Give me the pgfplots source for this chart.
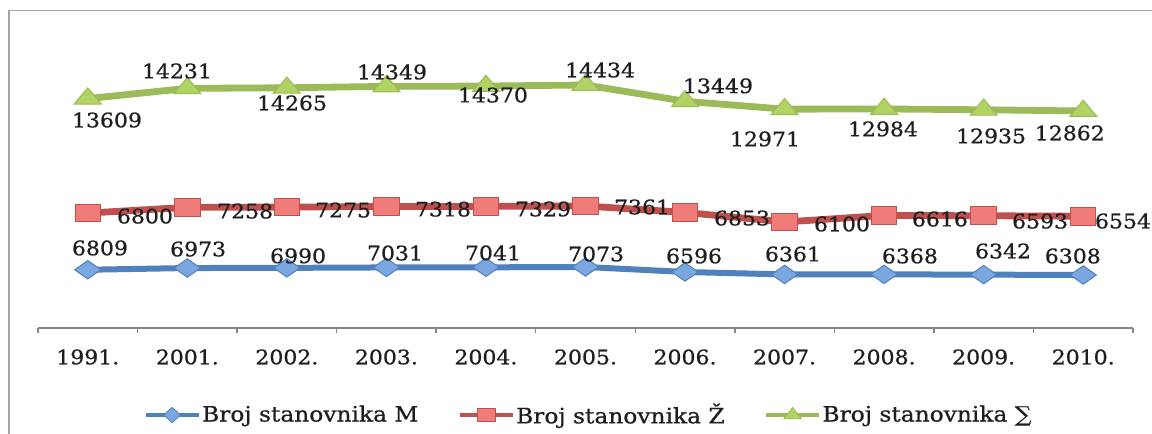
\documentclass[border=0pt]{standalone}
\usepackage{pgfplots}
\pgfplotsset{compat=1.18}
\usepackage{pgfplotstable}
\usepackage{fontspec}
\setmainfont{DejaVu Serif}[FakeStretch=1.1, FakeBold=0.7]
\definecolor{mblue}{HTML}{4F81BD}
\definecolor{mbluef}{HTML}{7BA7E1}
\definecolor{mred}{HTML}{C0504D}
\definecolor{mredf}{HTML}{EF7C79}
\definecolor{mgreen}{HTML}{9BBB59}
\definecolor{mgreenf}{HTML}{B0D363}
\definecolor{axgray}{HTML}{878787}
\definecolor{framegray}{HTML}{A6A6A6}
\definecolor{txt}{HTML}{1E1E1E}

\pgfplotstableread{
x y lab dx dy
0 6809 6809 6.1 10.9
1 6973 6973 5.4 9.5
2 6990 6990 5.6 6.0
3 7031 7031 4.3 7.2
4 7041 7041 3.5 7.2
5 7073 7073 5.3 6.5
6 6596 6596 4.5 8.0
7 6361 6361 4.2 10.2
8 6368 6368 12.9 9.2
9 6342 6342 9.7 11.8
10 6308 6308 -5.2 9.5
}\tblM
\pgfplotstableread{
x y lab dx dy
0 6800 6800 28.6 -1.5
1 7258 7258 28.9 -1.9
2 7275 7275 28.1 -1.5
3 7318 7318 28.3 -1.3
4 7329 7329 28.5 -1.3
5 7361 7361 28.3 -0.5
6 6853 6853 28.5 -2.8
7 6100 6100 28.7 -1.0
8 6616 6616 27.9 -1.8
9 6593 6593 28.2 -2.7
10 6554 6554 19.9 -2.4
}\tblZ
\pgfplotstableread{
x y lab dx dy
0 13609 13609 9.6 -10.7
1 14231 14231 -5.2 8.7
2 14265 14265 2.6 -7.6
3 14349 14349 2.8 7.2
4 14370 14370 3.5 -4.5
5 14434 14434 7.3 7.5
6 13449 13449 16.5 7.7
7 12971 12971 -9.8 -14.9
8 12984 12984 -0.6 -10.0
9 12935 12935 3.7 -13.1
10 12862 12862 -6.7 -11.0
}\tblS

\pgfplotsset{
  base/.style={
    at={(19pt,53pt)}, anchor=south west,
    scale only axis, width=547.5pt, height=154pt,
    xmin=-0.5, xmax=10.5, clip=false,
  },
  series/.style={
    base, axis lines=none,
  },
  lbl/.style={
    nodes near coords, point meta=explicit symbolic,
    visualization depends on={\thisrow{dx} \as \dx},
    visualization depends on={\thisrow{dy} \as \dy},
    every node near coord/.append style={anchor=center, xshift=\dx, yshift=\dy,
      font=\fontsize{10}{12}\selectfont, text=txt, inner sep=0pt},
  },
}

\begin{document}
\begin{tikzpicture}
\useasboundingbox (0,0) rectangle (576pt,217pt);
\fill[white] (0,0) rectangle (576pt,217pt);
\draw[framegray, line width=0.9pt] (4.4pt,-20pt) rectangle (640pt,211.7pt);

% x axis and legend
\begin{axis}[base,
  ymin=0, ymax=1,
  axis x line*=bottom, axis y line=none,
  x axis line style={-, axgray, line width=0.75pt},
  xtick={0,...,10},
  xticklabels={1991.,2001.,2002.,2003.,2004.,2005.,2006.,2007.,2008.,2009.,2010.},
  minor xtick={-0.5,0.5,...,10.5},
  major tick length=0pt, minor tick length=2.5pt, tick align=outside,
  minor tick style={axgray, line width=0.75pt},
  xticklabel style={anchor=center, yshift=-14.5pt, text=txt, font=\fontsize{10}{12}\selectfont},
  legend columns=3,
  legend image code/.code={\draw[mark repeat=2,mark phase=2,#1] plot coordinates {(0pt,0pt)(13.25pt,0pt)(26.5pt,0pt)};},
  legend style={at={(axis description cs:0.5,0)}, anchor=center, xshift=1.5pt, yshift=-43.5pt,
    draw=none, fill=none, font=\fontsize{10.6}{12}\selectfont, text=txt,
    nodes={inner sep=0.8pt},
    /tikz/every even column/.append style={column sep=19pt}},
]
\addlegendimage{mblue, line width=1.8pt, mark=diamond*, mark size=3.8pt, mark options={fill=mbluef, draw=mblue, line width=0.4pt, xscale=1.5}}
\addlegendentry{Broj stanovnika M}
\addlegendimage{mred, line width=1.8pt, mark=square*, mark size=3.4pt, mark options={fill=mredf, draw=mred, line width=0.4pt, xscale=1.35}}
\addlegendentry{Broj stanovnika Ž}
\addlegendimage{mgreen, line width=1.8pt, mark=triangle*, mark size=3.8pt, mark options={fill=mgreenf, draw=mgreen, line width=0.4pt, xscale=1.35}}
\addlegendentry{Broj stanovnika ∑}
\end{axis}

% M series
\begin{axis}[series, ymin=1241, ymax=30686]
\addplot[mblue, line width=3pt, mark=diamond*, mark size=4.6pt,
  mark options={fill=mbluef, draw=mblue, line width=0.5pt, xscale=1.9}, lbl]
  table[x=x, y=y, meta=lab] {\tblM};
\end{axis}

% Z series
\begin{axis}[series, ymin=-2253, ymax=22017]
\addplot[mred, line width=3.4pt, mark=square*, mark size=4.4pt,
  mark options={fill=mredf, draw=mred, line width=0.5pt, xscale=1.45}, lbl]
  table[x=x, y=y, meta=lab] {\tblZ};
\end{axis}

% Sum series
\begin{axis}[series, ymin=-268, ymax=18366]
\addplot[mgreen, line width=3.4pt, mark=triangle*, mark size=5.4pt,
  mark options={fill=mgreenf, draw=mgreen, line width=0.5pt, xscale=1.45}, lbl]
  table[x=x, y=y, meta=lab] {\tblS};
\end{axis}
\end{tikzpicture}
\end{document}
